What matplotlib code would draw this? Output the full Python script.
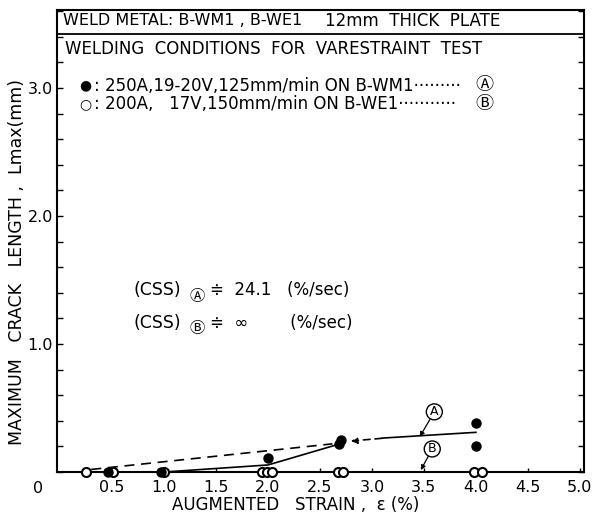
import numpy as np
import matplotlib
matplotlib.use('Agg')
import matplotlib.pyplot as plt
from matplotlib.ticker import MultipleLocator, FixedLocator

plt.rcParams['font.family'] = ['DejaVu Sans', 'Noto Sans CJK JP']

# filled circles: 250A on B-WM1 (A)
strain_a = [0.46, 0.97, 2.0, 2.68, 2.70, 4.0, 4.0]
crack_a = [0.0, 0.0, 0.11, 0.22, 0.25, 0.38, 0.20]

# open circles: 200A on B-WE1 (B)
strain_b = [0.25, 0.51, 1.0, 1.94, 1.99, 2.04, 2.67, 2.72, 3.98, 4.06]
crack_b = [0.0, 0.0, 0.0, 0.0, 0.0, 0.0, 0.0, 0.0, 0.0, 0.0]

# hand drawn trend lines
trend_a1_x = [0.5, 1.0, 2.0, 2.65]
trend_a1_y = [0.0, 0.0, 0.055, 0.21]
trend_a2_x = [3.1, 4.0]
trend_a2_y = [0.265, 0.31]
dash_x = [0.3, 2.62]
dash_y = [0.02, 0.22]

xticks = [0.5, 1.0, 1.5, 2.0, 2.5, 3.0, 3.5, 4.0, 4.5, 5.0]
yticks = [1.0, 2.0, 3.0]

fig = plt.figure(figsize=(5.97, 5.20), dpi=100)
ax = fig.add_axes([57/597, 48/520, 527/597, 462/520])

ax.plot(trend_a1_x, trend_a1_y, color='black', lw=1.2)
ax.plot(trend_a2_x, trend_a2_y, color='black', lw=1.2)
ax.plot(dash_x, dash_y, color='black', lw=1.2, ls=(0, (6, 4)))
ax.annotate('', xy=(2.77, 0.24), xytext=(3.12, 0.265),
            arrowprops=dict(arrowstyle='-|>', color='black', lw=1.2,
                            ls=(0, (4, 3)), mutation_scale=9))

ax.plot(strain_b, crack_b, 'o', ms=6.5, mfc='white', mec='black', mew=1.5,
        clip_on=False, zorder=5)
ax.plot(strain_a, crack_a, 'o', ms=6.5, mfc='black', mec='black',
        clip_on=False, zorder=6)

ax.set_xlim(-0.03, 5.04)
ax.set_ylim(0, 3.61)

ax.xaxis.set_major_locator(FixedLocator(xticks))
ax.set_xticklabels(['%.1f' % t for t in xticks])
ax.yaxis.set_major_locator(FixedLocator(yticks))
ax.set_yticklabels(['%.1f' % t for t in yticks])
ax.yaxis.set_minor_locator(MultipleLocator(0.2))
ax.tick_params(axis='both', which='both', direction='in', labelsize=11.5)
ax.tick_params(axis='x', length=3, width=1, pad=6)
ax.tick_params(axis='y', which='both', length=4, width=1, right=True, pad=3)

for s in ax.spines.values():
    s.set_linewidth(1.5)

ax.set_xlabel('AUGMENTED   STRAIN ,  \u03b5 (%)', fontsize=12)
ax.xaxis.set_label_coords(0.453, -0.052)
ax.set_ylabel('MAXIMUM   CRACK   LENGTH ,  Lmax(mm)', fontsize=12.5)
ax.yaxis.set_label_coords(-0.059, 0.455)
ax.text(-0.036, -0.035, '0', transform=ax.transAxes, fontsize=11.5,
        ha='center', va='center')

# header box
ax.axhline(3.42, color='black', lw=1.3)
ax.text(0.012, 0.977, 'WELD METAL: B-WM1 , B-WE1', transform=ax.transAxes,
        fontsize=11.5, va='center', ha='left')
ax.text(0.508, 0.977, '12mm  THICK  PLATE', transform=ax.transAxes,
        fontsize=12, va='center', ha='left')
ax.text(0.015, 0.915, 'WELDING  CONDITIONS  FOR  VARESTRAINT  TEST',
        transform=ax.transAxes, fontsize=12, va='center', ha='left')

# legend lines
ax.text(0.043, 0.836, '\u25cf', transform=ax.transAxes, fontsize=10,
        va='center', ha='left')
ax.text(0.043, 0.797, '\u25cb', transform=ax.transAxes, fontsize=10,
        va='center', ha='left')
ax.text(0.07, 0.835, ': 250A,19-20V,125mm/min ON B-WM1' + '\u00b7' * 9,
        transform=ax.transAxes, fontsize=12, va='center', ha='left')
ax.text(0.793, 0.837, '\u24b6', transform=ax.transAxes, fontsize=13,
        va='center', ha='left')
ax.text(0.07, 0.797, ': 200A,   17V,150mm/min ON B-WE1' + '\u00b7' * 11,
        transform=ax.transAxes, fontsize=12, va='center', ha='left')
ax.text(0.793, 0.797, '\u24b7', transform=ax.transAxes, fontsize=13,
        va='center', ha='left')

# critical strain rate notes
ax.text(0.145, 0.393, '(CSS)', transform=ax.transAxes, fontsize=12.5,
        va='center', ha='left')
ax.text(0.252, 0.380, '\u24b6', transform=ax.transAxes, fontsize=11,
        va='center', ha='left')
ax.text(0.29, 0.393, '\u2251  24.1   (%/sec)', transform=ax.transAxes,
        fontsize=12, va='center', ha='left')
ax.text(0.145, 0.323, '(CSS)', transform=ax.transAxes, fontsize=12.5,
        va='center', ha='left')
ax.text(0.252, 0.310, '\u24b7', transform=ax.transAxes, fontsize=11,
        va='center', ha='left')
ax.text(0.29, 0.323, '\u2251  \u221e        (%/sec)', transform=ax.transAxes,
        fontsize=12, va='center', ha='left')

# series labels with pointers
circ = dict(boxstyle='circle,pad=0.12', fc='white', ec='black', lw=1.0)
ax.annotate('A', xy=(3.46, 0.275), xytext=(3.6, 0.47), fontsize=9,
            ha='center', va='center', bbox=circ,
            arrowprops=dict(arrowstyle='-|>', color='black', lw=0.9,
                            mutation_scale=7, shrinkA=0, shrinkB=0))
ax.annotate('B', xy=(3.47, 0.015), xytext=(3.58, 0.18), fontsize=9,
            ha='center', va='center', bbox=circ,
            arrowprops=dict(arrowstyle='-|>', color='black', lw=0.9,
                            mutation_scale=7, shrinkA=0, shrinkB=0))

fig.savefig('out.png', dpi=100)
